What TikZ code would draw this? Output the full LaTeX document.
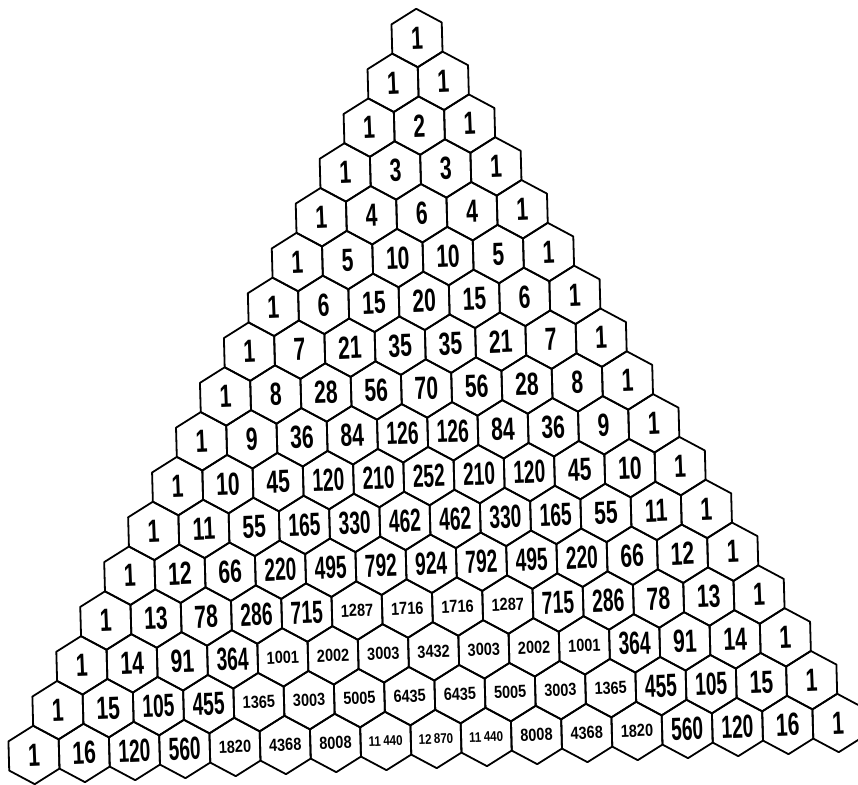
\documentclass[tikz,border=0pt]{standalone}
\usepackage{fontspec}
\usepackage{tikz}
\newfontfamily\bignumfont{Liberation Sans}[FakeStretch=0.66]
\newfontfamily\widenumfont{Liberation Sans}[FakeStretch=0.6]
\newfontfamily\smallnumfont{Liberation Sans}[FakeStretch=0.83]

% numbers of five digits are printed with a thin gap
\newcommand\hexlabel[1]{%
  \ifnum#1<10000 #1\else
  \the\numexpr(#1-500)/1000\relax\,\the\numexpr#1-1000*((#1-500)/1000)\relax\fi}

\tikzset{
  hexcell/.style={line width=1.8pt, line join=round},
  bigval/.style={font=\bignumfont\bfseries\fontsize{32}{32}\selectfont},
  wideval/.style={font=\widenumfont\bfseries\fontsize{32}{32}\selectfont},
  midval/.style={font=\smallnumfont\bfseries\fontsize{17.5}{17.5}\selectfont},
  tinyval/.style={font=\smallnumfont\bfseries\fontsize{14}{14}\selectfont},
  valnode/.code={%
    \pgfkeysalso{inner sep=0pt, rotate=2.3}%
    \ifnum#1<100 \pgfkeysalso{bigval}\else
    \ifnum#1<1000 \pgfkeysalso{wideval}\else
    \ifnum#1<10000 \pgfkeysalso{midval}\else\pgfkeysalso{tinyval}\fi\fi\fi}
}

\begin{document}
\begin{tikzpicture}[x={(50.25pt,2pt)}, y={(-23.94pt,-44.81pt)}]
    \useasboundingbox (-417pt,38pt) rectangle (441pt,-746pt);
    \foreach \r in {0,...,16}
    {
        \gdef\val{1}
        \foreach \i in {0,...,\r}
        {
            \node[valnode=\val] (v-\r-\i) at (\i,\r) {\hexlabel{\val}};
            \draw[hexcell, shift={(\i,\r)}] (-1/3,-2/3) -- (1/3,-1/3) -- (2/3,1/3)
                 -- (1/3,2/3) -- (-1/3,1/3) -- (-2/3,-1/3) -- cycle;
            \xdef\val{\the\numexpr\val*(\r-\i)/(\i+1)\relax}
        }
    }
\end{tikzpicture}
\end{document}
